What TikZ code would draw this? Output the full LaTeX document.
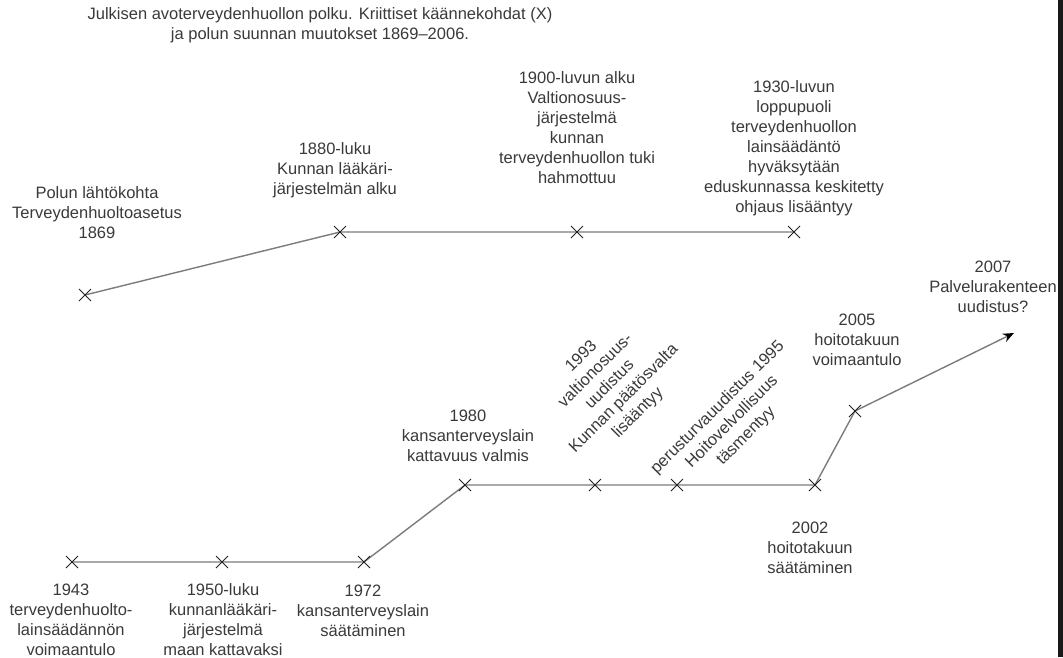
\documentclass[tikz,border=0pt]{standalone}
\usepackage{fontspec}
\setmainfont{Liberation Sans}
\usetikzlibrary{shapes.misc,arrows.meta}
\definecolor{txt}{HTML}{3A3A3A}
\definecolor{ln}{HTML}{7C7C7C}
\definecolor{mk}{HTML}{222222}
\begin{document}
\begin{tikzpicture}[x=1pt,y=-1pt,
  lbl/.style={text=txt,align=center,inner sep=0pt,font=\fontsize{16.5}{20}\selectfont},
  xmark/.style={draw=mk,cross out,minimum size=11pt,inner sep=0pt,line width=1pt},
  tline/.style={draw=ln,line width=1.4pt}]
\useasboundingbox (0,0) rectangle (1063,657);
\fill[white] (0,0) rectangle (1063,657);
\fill[black!90] (1058,0) rectangle (1063,657);
% points
\coordinate (p1869) at (85,295);
\coordinate (p1880) at (340,232);
\coordinate (p1900) at (577,232);
\coordinate (p1930) at (794,232);
\coordinate (p1943) at (72,562);
\coordinate (p1950) at (222,562);
\coordinate (p1972) at (364,562);
\coordinate (p1980) at (465,485);
\coordinate (p1993) at (595,485);
\coordinate (p1995) at (677,485);
\coordinate (p2002) at (815,485);
\coordinate (p2005) at (855,411);
\coordinate (p2007) at (1014,333);
% connectors
\draw[tline] (p1869) -- (p1880) -- (p1900) -- (p1930);
\draw[tline] (p1943) -- (p1950) -- (p1972) -- (p1980) -- (p1993) -- (p1995) -- (p2002) -- (p2005);
\draw[tline,-{Stealth[length=11pt,width=9pt,color=black]}] (p2005) -- (p2007);
% markers
\foreach \p in {1869,1880,1900,1930,1943,1950,1972,1980,1993,1995,2002,2005}
  \node[xmark] (m\p) at (p\p) {};
% title
\node[lbl] (title) at (320,25) {Julkisen avoterveydenhuollon polku. Kriittiset käännekohdat (X)\\ja polun suunnan muutokset 1869–2006.};
% labels
\node[lbl] (l1869) at (97,213) {Polun lähtökohta\\Terveydenhuoltoasetus\\1869};
\node[lbl] (l1880) at (335,170) {1880-luku\\Kunnan lääkäri-\\järjestelmän alku};
\node[lbl] (l1900) at (577,128) {1900-luvun alku\\Valtionosuus-\\järjestelmä\\kunnan\\terveydenhuollon tuki\\hahmottuu};
\node[lbl] (l1930) at (794,148) {1930-luvun\\loppupuoli\\terveydenhuollon\\lainsäädäntö\\hyväksytään\\eduskunnassa keskitetty\\ohjaus lisääntyy};
\node[lbl] (l2007) at (993,287) {2007\\Palvelurakenteen\\uudistus?};
\node[lbl] (l2005) at (857,340) {2005\\hoitotakuun\\voimaantulo};
\node[lbl] (l1980) at (468,436) {1980\\kansanterveyslain\\kattavuus valmis};
\node[lbl,rotate=45] (l1993) at (610,385) {1993\\valtionosuus-\\uudistus\\Kunnan päätösvalta\\lisääntyy};
\node[lbl,rotate=45] (l1995) at (732,422) {perusturvauudistus 1995\\Hoitovelvollisuus\\täsmentyy};
\node[lbl] (l1943) at (71,620) {1943\\terveydenhuolto-\\lainsäädännön\\voimaantulo};
\node[lbl] (l1950) at (223,620) {1950-luku\\kunnanlääkäri-\\järjestelmä\\maan kattavaksi};
\node[lbl] (l1972) at (363,611) {1972\\kansanterveyslain\\säätäminen};
\node[lbl] (l2002) at (810,548) {2002\\hoitotakuun\\säätäminen};
\end{tikzpicture}
\end{document}
